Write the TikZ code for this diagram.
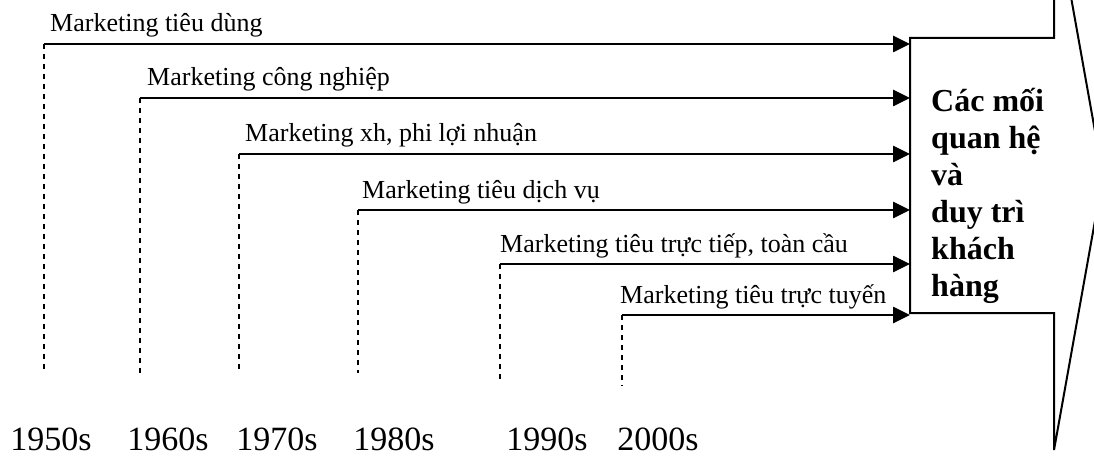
\documentclass[tikz,border=0pt]{standalone}
\usepackage{fontspec}
\setmainfont{Liberation Serif}
\usetikzlibrary{arrows.meta}
\begin{document}
\begin{tikzpicture}[x=1pt,y=-1pt,
  lbl/.style={anchor=base west,inner sep=0pt,font=\fontsize{26}{30}\selectfont},
  yr/.style={anchor=base,inner sep=0pt,font=\fontsize{34}{40}\selectfont},
  arr/.style={line width=2.6pt,-{Triangle[length=17pt,width=16pt]},shorten >=0pt},
  dsh/.style={line width=1.4pt,dash pattern=on 5pt off 5pt},
  outline/.style={line width=2pt,line join=miter}]
\useasboundingbox (0,0) rectangle (1094,457);
\begin{scope}
\clip (0,0) rectangle (1094,457);
\draw[outline] (910,38) -- (1054,38) -- (1054,-98) -- (1103,176) -- (1054,450) -- (1054,313) -- (910,313) -- cycle;
\end{scope}
\node[minimum width=144pt,minimum height=275pt,inner sep=0pt,anchor=north west] (shaft) at (910,38) {};
\node[anchor=north west,inner sep=0pt,align=left,font=\fontsize{32}{37}\selectfont\bfseries] (box) at (931,88) {Các mối\\quan hệ\\và\\duy trì\\khách\\hàng};
% start points
\coordinate (s1) at (44,44);
\coordinate (s2) at (140,98);
\coordinate (s3) at (239,154);
\coordinate (s4) at (358,210);
\coordinate (s5) at (500,264);
\coordinate (s6) at (622,315);
% dashed ends
\coordinate (e1) at (44,373);
\coordinate (e2) at (138,373);
\coordinate (e3) at (240,373);
\coordinate (e4) at (358,373);
\coordinate (e5) at (500,380);
\coordinate (e6) at (622,386);
\foreach \i in {1,...,6}{
  \draw[arr] (s\i) -- (s\i -| shaft.west);
  \draw[dsh] (s\i) -- (s\i |- e\i);
}
\node[lbl] (l1) at (50,32) {Marketing tiêu dùng};
\node[lbl] (l2) at (147,86) {Marketing công nghiệp};
\node[lbl] (l3) at (245,142) {Marketing xh, phi lợi nhuận};
\node[lbl] (l4) at (362,198) {Marketing tiêu dịch vụ};
\node[lbl] (l5) at (500,252) {Marketing tiêu trực tiếp, toàn cầu};
\node[lbl] (l6) at (620,303) {Marketing tiêu trực tuyến};
\node[yr] (y1) at (51,450) {1950s};
\node[yr] (y2) at (168,450) {1960s};
\node[yr] (y3) at (277,450) {1970s};
\node[yr] (y4) at (394,450) {1980s};
\node[yr] (y5) at (547,450) {1990s};
\node[yr] (y6) at (658,450) {2000s};
\end{tikzpicture}
\end{document}
